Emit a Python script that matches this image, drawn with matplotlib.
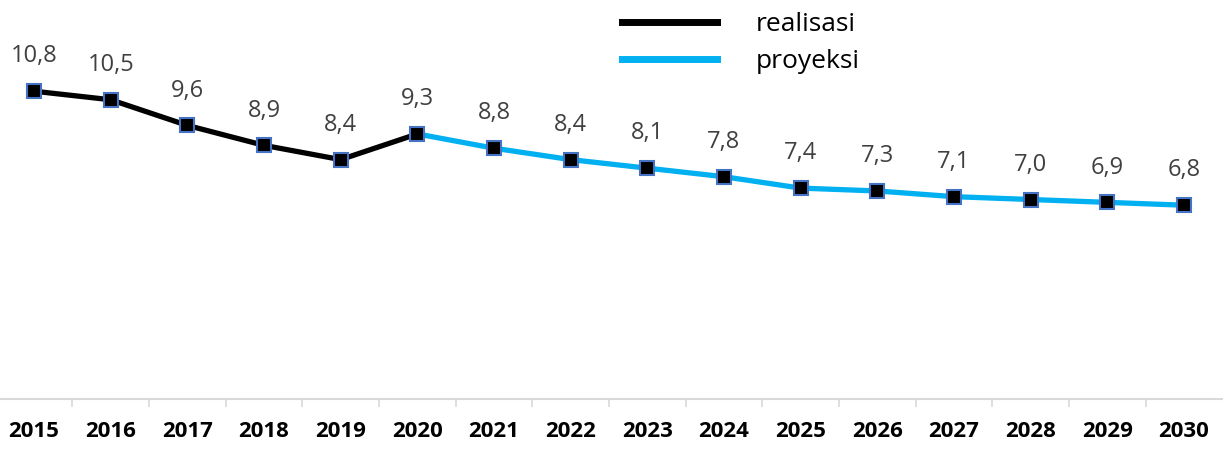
import matplotlib.pyplot as plt
import numpy as np

# data
years = ['2015', '2016', '2017', '2018', '2019', '2020', '2021', '2022',
         '2023', '2024', '2025', '2026', '2027', '2028', '2029', '2030']
realisasi = [10.8, 10.5, 9.6, 8.9, 8.4, 9.3]
proyeksi = [9.3, 8.8, 8.4, 8.1, 7.8, 7.4, 7.3, 7.1, 7.0, 6.9, 6.8]
all_vals = realisasi[:-1] + proyeksi

plt.rcParams['font.family'] = ['Open Sans', 'DejaVu Sans']

fig = plt.figure(figsize=(12.24, 4.5), dpi=100)
ax = fig.add_axes([-0.0035, 0.1133, 1.002, 0.8867])

x_real = np.arange(len(realisasi))
x_proj = np.arange(len(realisasi) - 1, len(years))

ax.plot(x_real, realisasi, color='black', lw=3.8, label='realisasi', zorder=2)
ax.plot(x_proj, proyeksi, color='#00b0f0', lw=3.8, label='proyeksi', zorder=2)

# markers on top
x_all = np.arange(len(years))
ax.plot(x_all, all_vals, ls='none', marker='s', ms=9.5, mfc='black',
        mec='#4472c4', mew=1.5, zorder=3)

for xi, v in zip(x_all, all_vals):
    ax.annotate(f'{v:.1f}'.replace('.', ','), (xi, v), xytext=(0, 25),
                textcoords='offset points', ha='center', va='center',
                fontsize=17, color='#404040')

ax.set_xlim(-0.5, len(years) - 0.5)
ax.set_ylim(0, 14)

ax.set_xticks(x_all)
ax.set_xticklabels(years, fontsize=16, fontweight='bold', color='black')
ax.tick_params(axis='x', which='major', length=0, pad=16)
ax.set_xticks(np.arange(0.5, len(years) - 0.5, 1), minor=True)
ax.tick_params(axis='x', which='minor', length=6, width=1.2, color='#d9d9d9')
ax.set_yticks([])

for s in ['top', 'right', 'left']:
    ax.spines[s].set_visible(False)
ax.spines['bottom'].set_color('#d9d9d9')
ax.spines['bottom'].set_linewidth(1.5)

leg = ax.legend(loc='upper left', bbox_to_anchor=(622 / 1224, 1 - 12 / 450),
                bbox_transform=fig.transFigure, frameon=False, fontsize=19,
                handlelength=3.6, handletextpad=1.45, labelspacing=0.45,
                borderpad=0, borderaxespad=0)
for line in leg.get_lines():
    line.set_linewidth(5)

fig.savefig('out.png', dpi=100)
